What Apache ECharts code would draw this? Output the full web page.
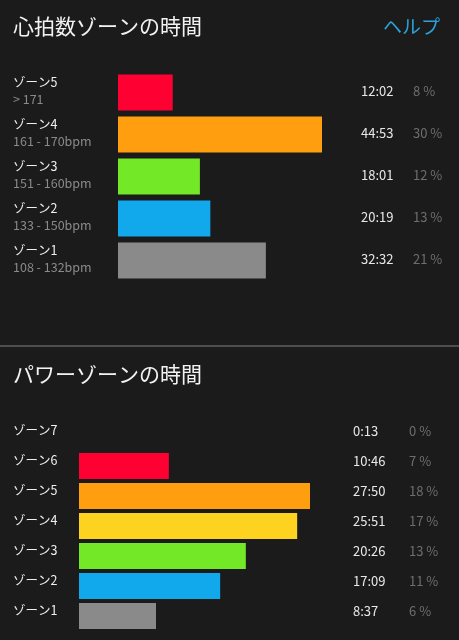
<!DOCTYPE html>
<html>
<head>
<meta charset="utf-8">
<script src="https://cdn.jsdelivr.net/npm/echarts@6/dist/echarts.min.js"></script>
<style>
html,body{margin:0;padding:0;background:#1b1b1b;}
#c{width:459px;height:640px;}
</style>
</head>
<body>
<div id="c"></div>
<script>
// ---- Heart rate zones ----
var hrTitle = '心拍数ゾーンの時間';
var helpText = 'ヘルプ';
var hrZones = ['ゾーン5', 'ゾーン4', 'ゾーン3', 'ゾーン2', 'ゾーン1'];
var hrRanges = ['> 171', '161 - 170bpm', '151 - 160bpm', '133 - 150bpm', '108 - 132bpm'];
var hrTimes = ['12:02', '44:53', '18:01', '20:19', '32:32'];
var hrPct = [8, 30, 12, 13, 21];
var hrColors = ['#ff0033', '#ff9f10', '#72e826', '#12a8ec', '#8a8a8a'];

// ---- Power zones ----
var pwTitle = 'パワーゾーンの時間';
var pwZones = ['ゾーン7', 'ゾーン6', 'ゾーン5', 'ゾーン4', 'ゾーン3', 'ゾーン2', 'ゾーン1'];
var pwTimes = ['0:13', '10:46', '27:50', '25:51', '20:26', '17:09', '8:37'];
var pwPct = [0, 7, 18, 17, 13, 11, 6];
var pwColors = ['#ff0033', '#ff0033', '#ff9f10', '#fdd31f', '#72e826', '#12a8ec', '#8a8a8a'];

function toSec(t) { var p = t.split(':'); return (+p[0]) * 60 + (+p[1]); }
var hrSeconds = hrTimes.map(toSec);

var JP = '"Noto Sans CJK JP", "Noto Sans", sans-serif';

var chart = echarts.init(document.getElementById('c'), null, {renderer: 'canvas'});
chart.setOption({
  backgroundColor: '#1b1b1b',
  animation: false,
  title: [
    {text: hrTitle, left: 8, top: 11, textStyle: {color: '#f2f2f2', fontSize: 21, fontWeight: 'normal', fontFamily: JP}},
    {text: helpText, right: 14, top: 12, textStyle: {color: '#2aa3db', fontSize: 19, fontWeight: 'normal', fontFamily: JP}},
    {text: pwTitle, left: 8, top: 359, textStyle: {color: '#f2f2f2', fontSize: 21, fontWeight: 'normal', fontFamily: JP}}
  ],
  graphic: [
    {type: 'rect', shape: {x: 0, y: 345, width: 459, height: 2}, style: {fill: '#4e4e4e'}, silent: true}
  ],
  grid: [
    {left: 118, width: 204, top: 71.5, height: 210},
    {left: 79, width: 231, top: 421, height: 210}
  ],
  xAxis: [
    {gridIndex: 0, type: 'value', min: 0, max: Math.max.apply(null, hrSeconds), show: false},
    {gridIndex: 1, type: 'value', min: 0, max: Math.max.apply(null, pwPct), show: false}
  ],
  yAxis: [
    {gridIndex: 0, type: 'category', inverse: true, data: hrZones,
     axisLine: {show: false}, axisTick: {show: false}, splitLine: {show: false},
     axisLabel: {align: 'left', margin: 105, padding: [0, 0, 4, 0], lineHeight: 17,
       formatter: function (v, i) { return '{a|' + v + '}\n{b|' + hrRanges[i] + '}'; },
       rich: {
         a: {color: '#f0f0f0', fontSize: 12.5, fontFamily: JP, lineHeight: 17},
         b: {color: '#8a8a8a', fontSize: 12.5, fontFamily: JP, lineHeight: 17}
       }}},
    {gridIndex: 0, type: 'category', inverse: true, position: 'right', data: hrZones,
     axisLine: {show: false}, axisTick: {show: false}, splitLine: {show: false},
     axisLabel: {align: 'left', margin: 39, padding: [0, 0, 3, 0],
       formatter: function (v, i) { return '{t|' + hrTimes[i] + '}{p|' + hrPct[i] + ' %}'; },
       rich: {
         t: {color: '#e8e8e8', fontSize: 13, fontFamily: JP, width: 52},
         p: {color: '#6e6e6e', fontSize: 13, fontFamily: JP}
       }}},
    {gridIndex: 1, type: 'category', inverse: true, data: pwZones,
     axisLine: {show: false}, axisTick: {show: false}, splitLine: {show: false},
     axisLabel: {align: 'left', margin: 66, padding: [0, 0, 12, 0],
       formatter: function (v) { return '{a|' + v + '}'; },
       rich: {
         a: {color: '#f0f0f0', fontSize: 12.5, fontFamily: JP}
       }}},
    {gridIndex: 1, type: 'category', inverse: true, position: 'right', data: pwZones,
     axisLine: {show: false}, axisTick: {show: false}, splitLine: {show: false},
     axisLabel: {align: 'left', margin: 43, padding: [0, 0, 9, 0],
       formatter: function (v, i) { return '{t|' + pwTimes[i] + '}{p|' + pwPct[i] + ' %}'; },
       rich: {
         t: {color: '#e8e8e8', fontSize: 13, fontFamily: JP, width: 56},
         p: {color: '#6e6e6e', fontSize: 13, fontFamily: JP}
       }}}
  ],
  series: [
    {type: 'bar', xAxisIndex: 0, yAxisIndex: 0, barWidth: 36,
     data: hrSeconds.map(function (s, i) { return {value: s, itemStyle: {color: hrColors[i]}}; })},
    {type: 'bar', xAxisIndex: 1, yAxisIndex: 2, barWidth: 26,
     data: pwPct.map(function (s, i) { return {value: s, itemStyle: {color: pwColors[i]}}; })}
  ]
});
</script>
</body>
</html>
